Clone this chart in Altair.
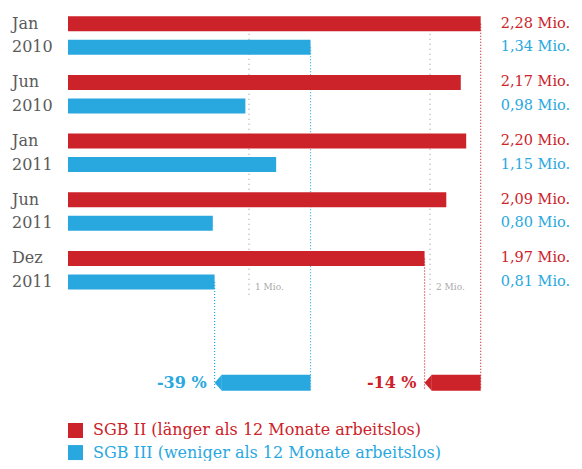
import altair as alt
import pandas as pd

# ---- data ----
months = ["Jan", "Jun", "Jan", "Jun", "Dez"]
years = ["2010", "2010", "2011", "2011", "2011"]
sgb2 = [2.28, 2.17, 2.20, 2.09, 1.97]
sgb3 = [1.34, 0.98, 1.15, 0.80, 0.81]
series = ["SGB II", "SGB III"]
legend_labels = ["SGB II (länger als 12 Monate arbeitslos)",
                 "SGB III (weniger als 12 Monate arbeitslos)"]
grid_values = [1, 2]
grid_labels = ["1 Mio.", "2 Mio."]
change_labels = ["-14 %", "-39 %"]

# ---- styling / layout ----
RED = "#cc2229"
BLUE = "#29a8e0"
GREY = "#5a5a5a"
FONT = "DejaVu Serif"

W, H = 566, 453
PX_X, X0 = 181.0, 60.0      # pixels per Mio., pixel position of zero
PX_Y, Y0 = 24.0, 11.0       # pixels per row unit, pixel of first row
STEP = 2.5                  # rows per period
ARROW_ROW = 15.3
LEGEND_ROWS = [17.33, 18.27]
GRID_LABEL_ROW = 11.2

xs = alt.Scale(domain=[-X0 / PX_X, (W - X0) / PX_X], nice=False, zero=False)
ys = alt.Scale(domain=[-Y0 / PX_Y, (H - Y0) / PX_Y], nice=False, zero=False, reverse=True)
cs = alt.Scale(domain=series, range=[RED, BLUE])


def fmt(v):
    return f"{v:.2f}".replace(".", ",") + " Mio."


vals = [sgb2, sgb3]
bar_rows, date_rows = [], []
for i in range(len(months)):
    date_rows.append({"t": months[i], "pos": i * STEP})
    date_rows.append({"t": years[i], "pos": i * STEP + 1})
    for s in range(2):
        bar_rows.append({"series": series[s], "start": 0, "value": vals[s][i],
                         "pos": i * STEP + s, "label": fmt(vals[s][i])})
bars = pd.DataFrame(bar_rows)
dates = pd.DataFrame(date_rows)
last = len(months) - 1

grid = pd.DataFrame({"x": grid_values, "label": grid_labels,
                     "y": [0] * len(grid_values),
                     "y2": [GRID_LABEL_ROW + 0.35] * len(grid_values),
                     "ly": [GRID_LABEL_ROW] * len(grid_values)})

conn_rows = []
arrow_rows = []
for s in range(2):
    conn_rows.append({"series": series[s], "x": vals[s][0], "y": 0 * STEP + s,
                      "y2": ARROW_ROW + 0.3})
    conn_rows.append({"series": series[s], "x": vals[s][last], "y": last * STEP + s,
                      "y2": ARROW_ROW + 0.3})
    arrow_rows.append({"series": series[s], "tip": vals[s][last], "start": vals[s][0],
                       "pos": ARROW_ROW, "label": change_labels[s]})
conn = pd.DataFrame(conn_rows)
arrows = pd.DataFrame(arrow_rows)
legend = pd.DataFrame({"series": series, "label": legend_labels, "x": [0, 0],
                       "pos": LEGEND_ROWS})

X = lambda f: alt.X(f, type="quantitative", scale=xs, axis=None)
Y = lambda f: alt.Y(f, type="quantitative", scale=ys, axis=None)
C = alt.Color("series:N", scale=cs, legend=None)

grid_rules = alt.Chart(grid).mark_rule(color="#a0a0a0", strokeDash=[1, 4], strokeWidth=1.2).encode(
    x=X("x"), y=Y("y"), y2="y2")
grid_text = alt.Chart(grid).mark_text(align="left", baseline="middle", dx=6, font=FONT,
                                      fontSize=9, color="#a8a8a8").encode(
    x=X("x"), y=Y("ly"), text="label")

conn_rules = alt.Chart(conn).mark_rule(strokeDash=[1, 2], strokeWidth=1.2).encode(
    x=X("x"), y=Y("y"), y2="y2", color=C)

bar_layer = alt.Chart(bars).mark_bar(orient="horizontal", size=15).encode(
    x=X("start"), x2="value", y=Y("pos"), color=C)

value_text = alt.Chart(bars).mark_text(align="left", baseline="middle", font=FONT,
                                       fontSize=14.5).encode(
    x=alt.X("x0:Q", scale=xs, axis=None), y=Y("pos"), text="label", color=C
).transform_calculate(x0=str(2.28 + 20 / PX_X))

date_text = alt.Chart(dates).mark_text(align="left", baseline="middle", font=FONT,
                                       fontSize=16, color=GREY, dx=-56).encode(
    x=alt.X("x0:Q", scale=xs, axis=None), y=Y("pos"), text="t"
).transform_calculate(x0="0")

arrow_body = alt.Chart(arrows).mark_bar(orient="horizontal", size=16, xOffset=7).encode(
    x=X("tip"), x2="start", y=Y("pos"), color=C)
arrow_head = alt.Chart(arrows).mark_point(shape="M0.9,-1L0,0L0.9,1Z", filled=True, size=256,
                                          opacity=1, strokeWidth=0).encode(
    x=X("tip"), y=Y("pos"), color=C)
arrow_text = alt.Chart(arrows).mark_text(align="right", baseline="middle", font=FONT,
                                         fontSize=16, fontWeight="bold", dx=-8).encode(
    x=X("tip"), y=Y("pos"), text="label", color=C)

legend_sq = alt.Chart(legend).mark_point(shape="square", filled=True, size=225, opacity=1,
                                         xOffset=7.5).encode(
    x=X("x"), y=Y("pos"), color=C)
legend_text = alt.Chart(legend).mark_text(align="left", baseline="middle", font=FONT,
                                          fontSize=16, dx=25).encode(
    x=X("x"), y=Y("pos"), text="label", color=C)

chart = alt.layer(
    grid_rules, grid_text, conn_rules, bar_layer, value_text, date_text,
    arrow_body, arrow_head, arrow_text, legend_sq, legend_text
).properties(
    width=W, height=H, padding=0, autosize=alt.AutoSizeParams(type="none"),
    background="white"
).configure_view(stroke=None)

chart.save("out.html", embed_options={"renderer": "svg", "actions": False})
